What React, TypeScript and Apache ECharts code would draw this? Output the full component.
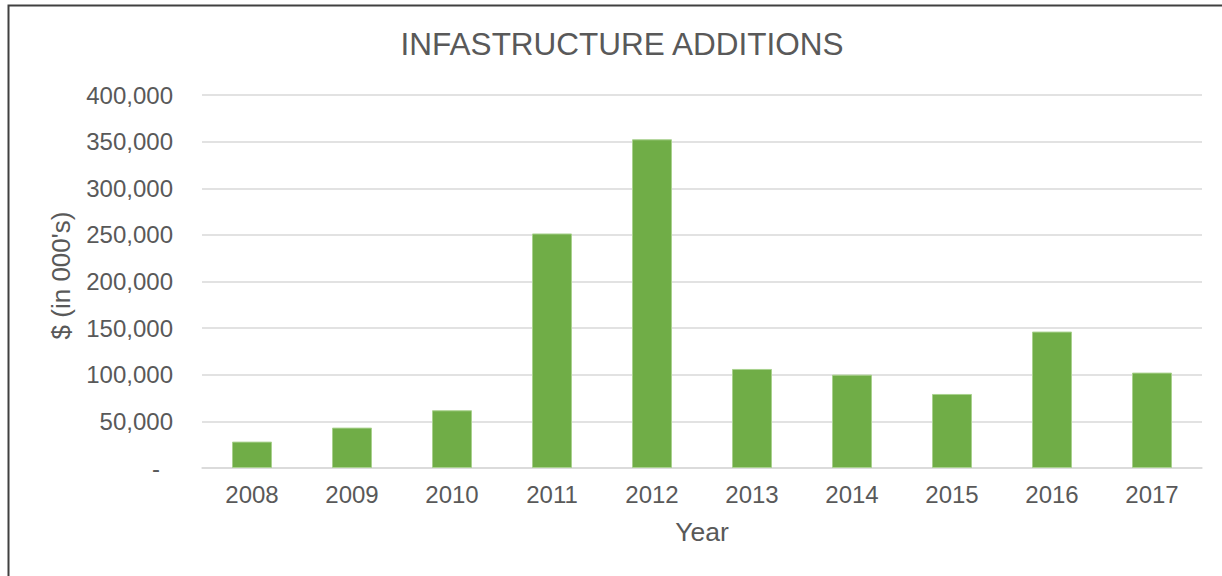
import React, { useEffect, useRef } from "react";
import * as echarts from "echarts";

const years = ["2008", "2009", "2010", "2011", "2012", "2013", "2014", "2015", "2016", "2017"];
const additions = [28300, 43300, 61900, 251500, 352500, 106200, 100100, 79400, 146300, 102300];
const yTicks = { min: 0, max: 400000, interval: 50000 };

const TEXT = "#595959";
const FONT = "'Liberation Sans', Arial, sans-serif";

export default function App() {
  const ref = useRef<HTMLDivElement>(null);
  useEffect(() => {
    if (!ref.current) return;
    const chart = echarts.init(ref.current, undefined, { renderer: "svg" });
    chart.setOption({
      animation: false,
      backgroundColor: "#ffffff",
      textStyle: { fontFamily: FONT },
      title: {
        text: "INFASTRUCTURE ADDITIONS",
        left: 617,
        top: 23,
        textAlign: "center",
        textStyle: { color: TEXT, fontSize: 31.5, fontWeight: "normal", fontFamily: FONT },
      },
      graphic: [
        {
          type: "rect",
          shape: { x: 8.5, y: 5.5, width: 1400, height: 800 },
          style: { fill: "none", stroke: "#404040", lineWidth: 2 },
          silent: true,
        },
      ],
      grid: { left: 202, right: 20, top: 95, bottom: 108, containLabel: false },
      xAxis: {
        type: "category",
        data: years,
        name: "Year",
        nameLocation: "middle",
        nameGap: 50,
        nameTextStyle: { color: TEXT, fontSize: 26.5, fontFamily: FONT, verticalAlign: "top" },
        axisLine: { lineStyle: { color: "#d9d9d9", width: 1.5 } },
        axisTick: { show: false },
        axisLabel: { color: TEXT, fontSize: 24, margin: 14, fontFamily: FONT },
      },
      yAxis: {
        type: "value",
        min: yTicks.min,
        max: yTicks.max,
        interval: yTicks.interval,
        name: "$ (in 000's)",
        nameLocation: "middle",
        nameGap: 128,
        nameTextStyle: { color: TEXT, fontSize: 26, fontFamily: FONT, padding: [0, 0, 0, 12] },
        axisLine: { show: false },
        axisTick: { show: false },
        splitLine: { lineStyle: { color: "#d9d9d9", width: 1.5 } },
        axisLabel: {
          color: TEXT,
          fontSize: 24,
          margin: 29,
          fontFamily: FONT,
          formatter: (v: number) => (v === 0 ? "{d|-}" : v.toLocaleString("en-US")),
          rich: { d: { color: TEXT, fontSize: 24, fontFamily: FONT, padding: [0, 13, 0, 0] } },
        },
      },
      series: [
        {
          type: "bar",
          data: additions,
          barWidth: 40,
          itemStyle: { color: "#70AD47", borderColor: "#a9d18e", borderWidth: 1 },
        },
      ],
    });
    return () => chart.dispose();
  }, []);
  return (
    <div
      ref={ref}
      style={{ position: "fixed", left: 0, top: 0, width: 1222, height: 576 }}
    />
  );
}
